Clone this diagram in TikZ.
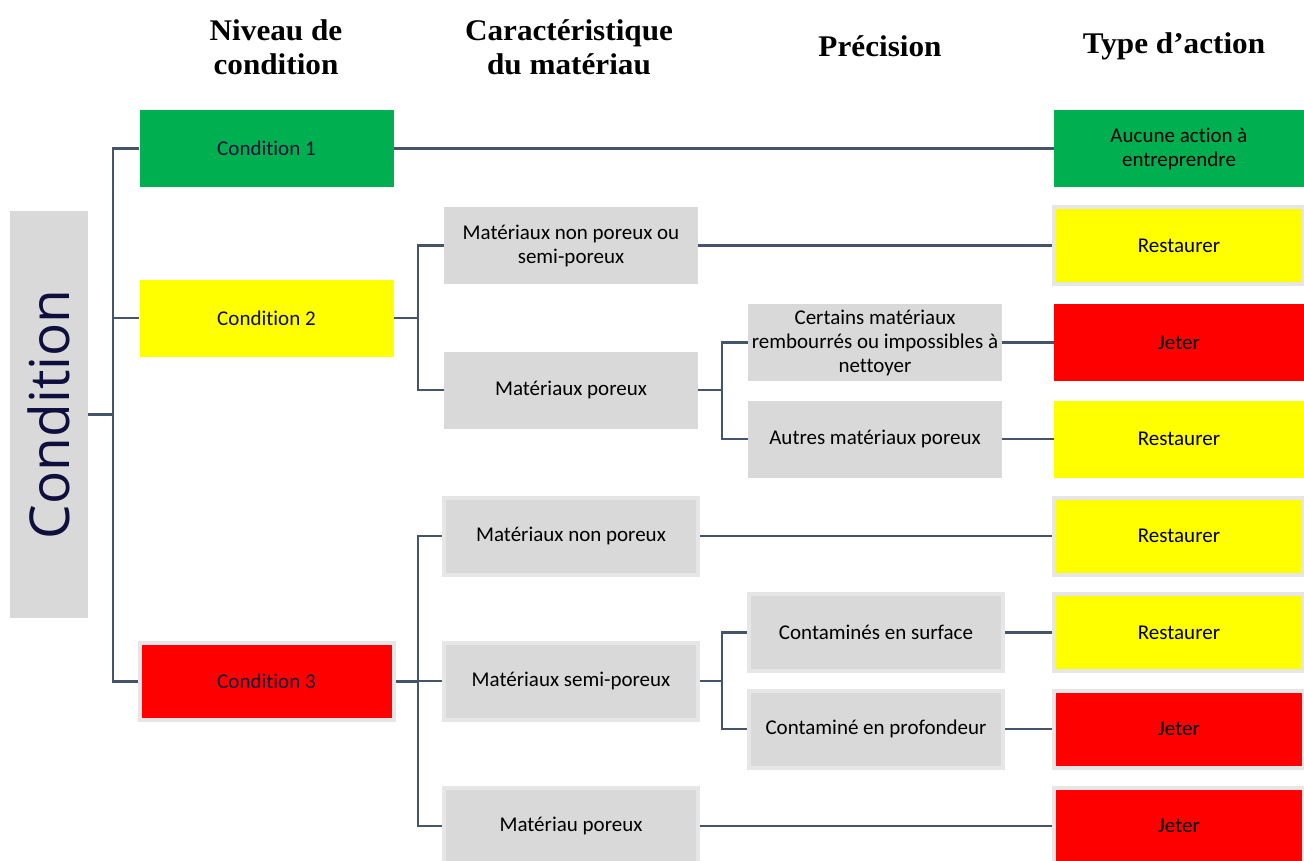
\documentclass[tikz,border=0pt]{standalone}
\usepackage{fontspec}
\setmainfont[Ligatures=NoCommon]{Carlito}
\newfontfamily\hdrfont[FakeStretch=1.04]{Liberation Serif}
\newfontfamily\bigfont{Open Sans}
\definecolor{cgreen}{HTML}{00B050}
\definecolor{cyellow}{HTML}{FFFF00}
\definecolor{cred}{HTML}{FF0000}
\definecolor{cgrey}{HTML}{D9D9D9}
\definecolor{cborder}{HTML}{E7E6E6}
\definecolor{cline}{HTML}{44546A}
\definecolor{cnavy}{HTML}{0F0F3D}
\begin{document}
\begin{tikzpicture}[x=1pt,y=-1pt,
  box/.style={minimum width=254, minimum height=77, inner sep=0, align=center,
    font=\fontsize{21}{24}\selectfont, text=black},
  rbox/.style={box, minimum width=250},
  bordered/.style={draw=cborder, line width=4},
  grey/.style={fill=cgrey},
  green/.style={fill=cgreen},
  yellow/.style={fill=cyellow},
  red/.style={fill=cred},
  conn/.style={draw=cline, line width=2.8},
  hdr/.style={align=center, font=\hdrfont\bfseries\fontsize{30}{34}\selectfont, text=black}
]
\clip (0,0) rectangle (1304,861);
\fill[white] (0,0) rectangle (1304,861);

% headers
\node[hdr] (h1) at (276,47) {Niveau de\\condition};
\node[hdr] (h2) at (569,47) {Caractéristique\\du matériau};
\node[hdr] (h3) at (880,46) {Précision};
\node[hdr] (h4) at (1174,46) {Type d’action};

% root
\node[grey, minimum width=407, minimum height=78, inner sep=0, rotate=90,
  font=\bigfont\fontsize{55}{60}\selectfont, text=cnavy] (cond) at (49,414.5) {Condition};

% level 1
\node[box, green, text=cnavy] (c1) at (266.5,148.5) {Condition 1};
\node[box, yellow, text=cnavy] (c2) at (266.5,318) {Condition 2};
\node[box, red, bordered, text=cnavy] (c3) at (266.5,681.5) {Condition 3};

% level 2
\node[box, grey] (m1) at (571,245.5) {Matériaux non poreux ou\\semi-poreux};
\node[box, grey] (m2) at (571,390) {Matériaux poreux};
\node[box, grey, bordered] (m3) at (571,536) {Matériaux non poreux};
\node[box, grey, bordered] (m4) at (571,681) {Matériaux semi-poreux};
\node[box, grey, bordered] (m5) at (571,826) {Matériau poreux};

% level 3
\node[box, grey] (p1) at (875,342.5) {Certains matériaux\\rembourrés ou impossibles à\\nettoyer};
\node[box, grey] (p2) at (875,439) {Autres matériaux poreux};
\node[box, grey, bordered] (p3) at (876,632.5) {Contaminés en surface};
\node[box, grey, bordered] (p4) at (876,729) {Contaminé en profondeur};

% actions
\node[rbox, green] (a1) at (1179,148.5) {Aucune action à\\entreprendre};
\node[rbox, yellow, bordered] (a2) at (1179,245.5) {Restaurer};
\node[rbox, red] (a3) at (1179,342.5) {Jeter};
\node[rbox, yellow] (a4) at (1179,439) {Restaurer};
\node[rbox, yellow, bordered] (a5) at (1179,536) {Restaurer};
\node[rbox, yellow, bordered] (a6) at (1179,632.5) {Restaurer};
\node[rbox, red, bordered] (a7) at (1179,729) {Jeter};
\node[rbox, red, bordered] (a8) at (1179,826) {Jeter};

% junctions
\coordinate (j0) at (113,414.5);
\coordinate (j1) at (418,318);
\coordinate (j2) at (722,390);
\coordinate (j3) at (418,681.5);
\coordinate (j4) at (722,681);

\draw[conn] (cond.south) -- (j0);
\draw[conn] (j0) |- (c1.west);
\draw[conn] (j0) |- (c2.west);
\draw[conn] (j0) |- (c3.west);

\draw[conn] (c2.east) -- (j1);
\draw[conn] (j1) |- (m1.west);
\draw[conn] (j1) |- (m2.west);

\draw[conn] (m2.east) -- (j2);
\draw[conn] (j2) |- (p1.west);
\draw[conn] (j2) |- (p2.west);

\draw[conn] (c3.east) -- (j3);
\draw[conn] (j3) |- (m3.west);
\draw[conn] (j3) |- (m4.west);
\draw[conn] (j3) |- (m5.west);

\draw[conn] (m4.east) -- (j4);
\draw[conn] (j4) |- (p3.west);
\draw[conn] (j4) |- (p4.west);

\draw[conn] (c1.east) -- (a1.west);
\draw[conn] (m1.east) -- (a2.west);
\draw[conn] (p1.east) -- (a3.west);
\draw[conn] (p2.east) -- (a4.west);
\draw[conn] (m3.east) -- (a5.west);
\draw[conn] (p3.east) -- (a6.west);
\draw[conn] (p4.east) -- (a7.west);
\draw[conn] (m5.east) -- (a8.west);
\end{tikzpicture}
\end{document}
